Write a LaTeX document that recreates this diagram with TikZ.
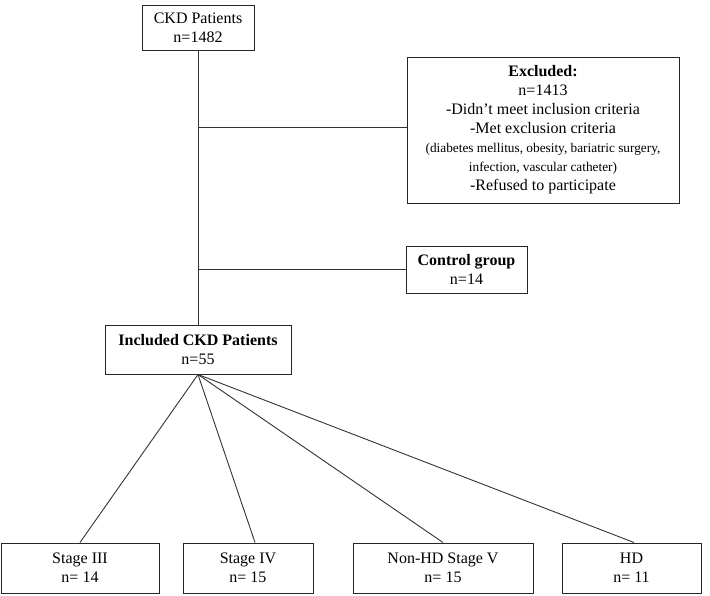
\documentclass[tikz,border=0pt]{standalone}
\usepackage{fontspec}
\setmainfont{Liberation Serif}
\begin{document}
\begin{tikzpicture}[x=1pt,y=-1pt,
  box/.style={draw=black!85,line width=1pt,inner sep=0pt,align=center,font=\fontsize{16}{19}\selectfont},
  conn/.style={draw=black!80,line width=0.9pt}]
\useasboundingbox (0,0) rectangle (710,595);
\node[box,minimum width=112pt,minimum height=45pt] (ckd) at (198,27.5) {CKD Patients\\n=1482};
\node[box,minimum width=272pt,minimum height=146pt] (excl) at (543,130)
 {\textbf{Excluded:}\\n=1413\\-Didn’t meet inclusion criteria\\-Met exclusion criteria\\
 {\fontsize{13.3}{17}\selectfont (diabetes mellitus, obesity, bariatric surgery,}\\
 {\fontsize{13.3}{17}\selectfont infection, vascular catheter)}\\-Refused to participate};
\node[box,minimum width=121pt,minimum height=47pt] (ctrl) at (466.5,269.5) {\textbf{Control group}\\n=14};
\node[box,minimum width=186pt,minimum height=49pt] (incl) at (198,349.5) {\textbf{Included CKD Patients}\\n=55};
\node[box,minimum width=158pt,minimum height=50pt] (s3) at (80,568) {Stage III\\n= 14};
\node[box,minimum width=130pt,minimum height=50pt] (s4) at (248,568) {Stage IV\\n= 15};
\node[box,minimum width=180pt,minimum height=50pt] (s5) at (443,568) {Non-HD Stage V\\n= 15};
\node[box,minimum width=139pt,minimum height=50pt] (hd) at (631.5,568) {HD\\n= 11};
\coordinate (j1) at (198,127);
\coordinate (j2) at (198,269.5);
\draw[conn] (ckd.south) -- (incl.north);
\draw[conn] (j1) -- (j1 -| excl.west);
\draw[conn] (j2) -- (ctrl.west);
\draw[conn] (incl.south) -- (s3.north);
\draw[conn] (incl.south) -- ([xshift=7pt]s4.north);
\draw[conn] (incl.south) -- (s5.north);
\draw[conn] (incl.south) -- ([xshift=2.5pt]hd.north);
\end{tikzpicture}
\end{document}
